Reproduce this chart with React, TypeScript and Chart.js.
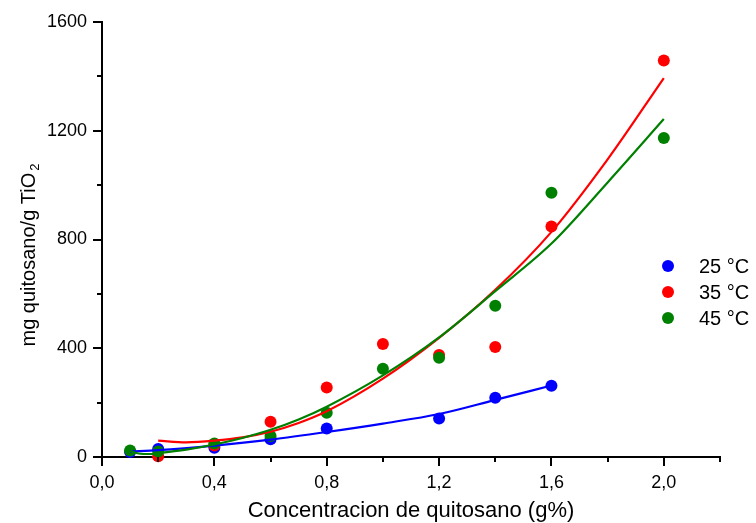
import React, { useEffect, useRef } from 'react';
import { Chart, registerables } from 'chart.js';

Chart.register(...registerables);

// ---- axis ticks ----
const xTickValues = [0, 0.4, 0.8, 1.2, 1.6, 2.0];
const xTickLabels = ['0,0', '0,4', '0,8', '1,2', '1,6', '2,0'];
const xMinorTicks = [0.2, 0.6, 1.0, 1.4, 1.8, 2.2];
const yTickValues = [0, 400, 800, 1200, 1600];
const yTickLabels = ['0', '400', '800', '1200', '1600'];
const yMinorTicks = [200, 600, 1000, 1400];

const xTitle = 'Concentracion de quitosano (g%)';
const yTitleMain = 'mg quitosano/g TiO';
const yTitleSub = '2';

// ---- series ----
const seriesLabels = ['25 °C', '35 °C', '45 °C'];
const seriesColors = ['#0000ff', '#ff0000', '#008000'];

// measured points
const x25 = [0.1, 0.2, 0.4, 0.6, 0.8, 1.2, 1.4, 1.6];
const y25 = [18, 29, 34, 65, 105, 142, 218, 262];
const x35 = [0.2, 0.4, 0.6, 0.8, 1.0, 1.2, 1.4, 1.6, 2.0];
const y35 = [3, 42, 130, 256, 416, 375, 405, 848, 1458];
const x45 = [0.1, 0.2, 0.4, 0.6, 0.8, 1.0, 1.2, 1.4, 1.6, 2.0];
const y45 = [24, 20, 50, 77, 163, 325, 365, 556, 972, 1173];

// fitted curves
const fitX25 = [0.1, 0.2, 0.4, 0.6, 0.8, 1.0, 1.2, 1.4, 1.6];
const fitY25 = [20, 25, 42, 64, 92, 123, 158, 210, 263];
const fitX35 = [0.2, 0.3, 0.4, 0.5, 0.6, 0.7, 0.8, 1.0, 1.2, 1.4, 1.6, 1.8, 2.0];
const fitY35 = [60, 54, 60, 72, 93, 125, 168, 288, 438, 615, 828, 1095, 1394];
const fitX45 = [0.1, 0.13, 0.17, 0.2, 0.3, 0.4, 0.5, 0.6, 0.7, 0.8, 1.0, 1.2, 1.4, 1.6, 1.8, 2.0];
const fitY45 = [22, 13, 11, 14, 27, 46, 70, 100, 138, 185, 300, 440, 610, 785, 1010, 1243];

const FONT = "Arial, 'Liberation Sans', Helvetica, sans-serif";

const pts = (xs: number[], ys: number[]) => xs.map((x, i) => ({ x, y: ys[i] }));

const extrasPlugin = {
  id: 'extras',
  afterDraw(chart: any) {
    const ctx = chart.ctx;
    const xs = chart.scales.x;
    const ys = chart.scales.y;
    const area = chart.chartArea;
    ctx.save();
    // minor ticks
    ctx.strokeStyle = '#000';
    ctx.lineWidth = 2;
    ctx.beginPath();
    xMinorTicks.forEach((v) => {
      const px = Math.round(xs.getPixelForValue(v));
      ctx.moveTo(px, area.bottom);
      ctx.lineTo(px, area.bottom + 5);
    });
    yMinorTicks.forEach((v) => {
      const py = Math.round(ys.getPixelForValue(v));
      ctx.moveTo(area.left, py);
      ctx.lineTo(area.left - 5, py);
    });
    ctx.stroke();

    // legend
    ctx.font = `20px ${FONT}`;
    ctx.textBaseline = 'middle';
    ctx.textAlign = 'left';
    seriesLabels.forEach((lab, i) => {
      const cy = 266 + i * 26;
      ctx.fillStyle = seriesColors[i];
      ctx.beginPath();
      ctx.arc(668, cy, 6, 0, Math.PI * 2);
      ctx.fill();
      ctx.fillStyle = '#000';
      ctx.fillText(lab, 699, cy + 1);
    });

    // x title
    ctx.font = `22px ${FONT}`;
    ctx.textAlign = 'center';
    ctx.textBaseline = 'alphabetic';
    ctx.fillStyle = '#000';
    ctx.fillText(xTitle, (area.left + area.right) / 2, 517);

    // y title with subscript
    ctx.translate(35, 255);
    ctx.rotate(-Math.PI / 2);
    ctx.font = `20px ${FONT}`;
    const w1 = ctx.measureText(yTitleMain).width;
    ctx.font = `13px ${FONT}`;
    const w2 = ctx.measureText(yTitleSub).width;
    const start = -(w1 + w2 + 2) / 2;
    ctx.textAlign = 'left';
    ctx.font = `20px ${FONT}`;
    ctx.fillText(yTitleMain, start, 0);
    ctx.font = `13px ${FONT}`;
    ctx.fillText(yTitleSub, start + w1 + 2, 4);
    ctx.restore();
  },
};

export default function App() {
  const ref = useRef<HTMLCanvasElement | null>(null);
  useEffect(() => {
    if (!ref.current) return;
    const scatterDs = [pts(x25, y25), pts(x35, y35), pts(x45, y45)].map((d, i) => ({
      type: 'scatter' as const,
      label: seriesLabels[i],
      data: d,
      backgroundColor: seriesColors[i],
      borderColor: seriesColors[i],
      pointRadius: 6,
      pointBorderWidth: 0,
      pointHoverRadius: 6,
      showLine: false,
      clip: false as any,
      order: 10 - i,
    }));
    const fitDs = [pts(fitX25, fitY25), pts(fitX35, fitY35), pts(fitX45, fitY45)].map((d, i) => ({
      type: 'line' as const,
      label: seriesLabels[i] + ' fit',
      data: d,
      borderColor: seriesColors[i],
      backgroundColor: seriesColors[i],
      borderWidth: 2.2,
      pointRadius: 0,
      cubicInterpolationMode: 'monotone' as const,
      fill: false,
      clip: false as any,
      order: 3 - i,
    }));
    const chart = new Chart(ref.current, {
      type: 'scatter',
      data: { datasets: [...scatterDs, ...fitDs] as any },
      plugins: [extrasPlugin],
      options: {
        animation: false,
        responsive: false,
        devicePixelRatio: 1,
        events: [],
        layout: { padding: { top: 22, right: 36, left: 0, bottom: 0 } },
        plugins: { legend: { display: false }, tooltip: { enabled: false } },
        scales: {
          x: {
            type: 'linear',
            min: 0,
            max: 2.2,
            border: { display: true, color: '#000', width: 2 },
            grid: { drawOnChartArea: false, drawTicks: true, tickLength: 9, color: '#000', lineWidth: 2 },
            afterBuildTicks: (scale: any) => {
              scale.ticks = xTickValues.map((v) => ({ value: v }));
            },
            afterFit: (scale: any) => {
              scale.height = 66;
            },
            ticks: {
              color: '#000',
              font: { family: FONT, size: 18 },
              padding: 6,
              maxRotation: 0,
              autoSkip: false,
              callback: (v: any) => {
                const i = xTickValues.findIndex((t) => Math.abs(t - Number(v)) < 1e-6);
                return i >= 0 ? xTickLabels[i] : '';
              },
            },
          },
          y: {
            type: 'linear',
            min: 0,
            max: 1600,
            border: { display: true, color: '#000', width: 2 },
            grid: { drawOnChartArea: false, drawTicks: true, tickLength: 9, color: '#000', lineWidth: 2 },
            afterBuildTicks: (scale: any) => {
              scale.ticks = yTickValues.map((v) => ({ value: v }));
            },
            afterFit: (scale: any) => {
              scale.width = 102;
            },
            ticks: {
              color: '#000',
              font: { family: FONT, size: 18 },
              padding: 6,
              autoSkip: false,
              callback: (v: any) => {
                const i = yTickValues.findIndex((t) => Math.abs(t - Number(v)) < 1e-6);
                return i >= 0 ? yTickLabels[i] : '';
              },
            },
          },
        },
      } as any,
    });
    return () => chart.destroy();
  }, []);
  return (
    <div style={{ position: 'fixed', left: 0, top: 0, width: 756, height: 523, background: '#fff' }}>
      <canvas ref={ref} width={756} height={523} style={{ display: 'block' }} />
    </div>
  );
}
